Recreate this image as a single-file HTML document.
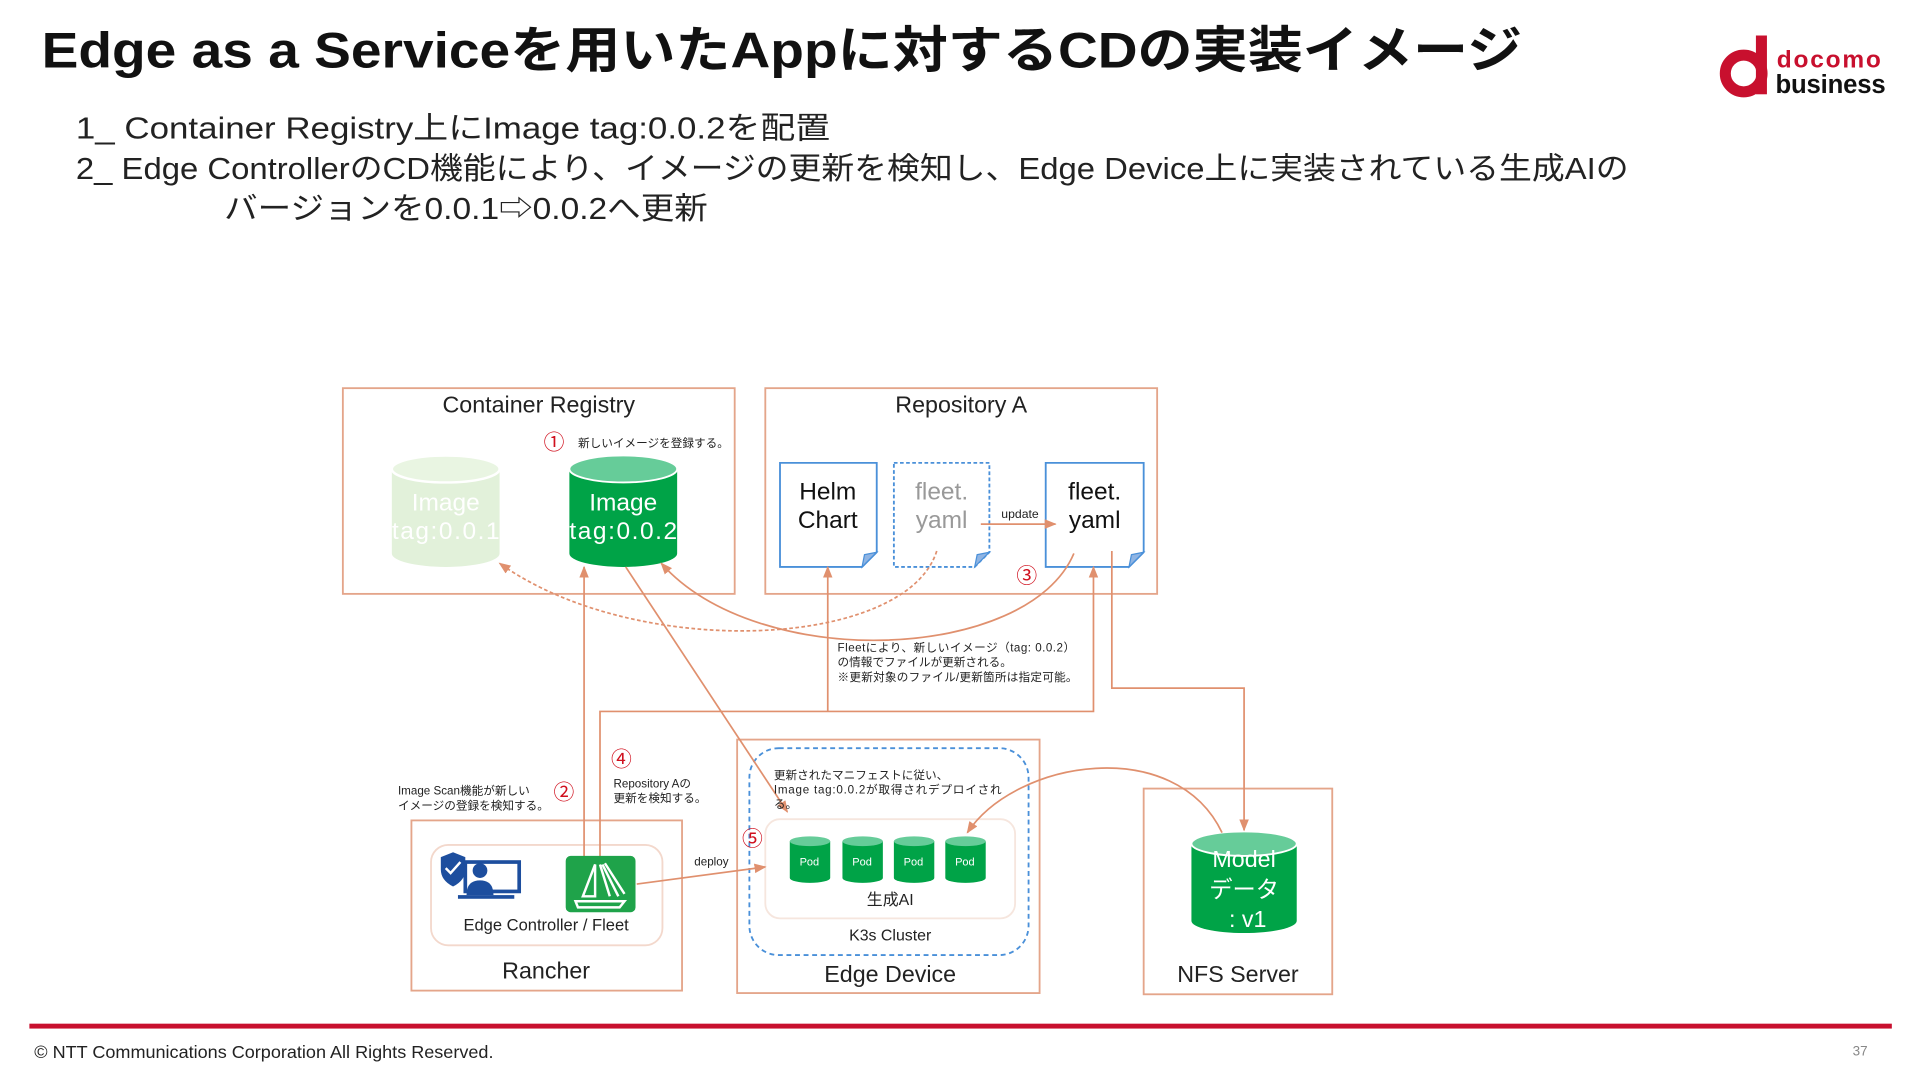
<!DOCTYPE html>
<html><head><meta charset="utf-8"><style>
html,body{margin:0;padding:0;background:#fff;width:1920px;height:1080px;overflow:hidden}
svg{display:block}
text{font-family:"Liberation Sans","Noto Sans CJK JP",sans-serif}
</style></head><body>
<svg width="1920" height="1080" viewBox="0 0 1568 882" xmlns="http://www.w3.org/2000/svg">
<defs>
<marker id="ar" viewBox="0 0 10 10" refX="9" refY="5" markerWidth="7" markerHeight="7" orient="auto-start-reverse"><path d="M0,1 L10,5 L0,9 z" fill="#e0906e"/></marker>
</defs>
<text x="34" y="55" font-size="41" font-weight="bold" fill="#111" textLength="1209" lengthAdjust="spacingAndGlyphs">Edge as a Serviceを用いたAppに対するCDの実装イメージ</text>
<!-- logo -->
<circle cx="1424" cy="60" r="15" fill="none" stroke="#c8102e" stroke-width="9"/>
<rect x="1434" y="29" width="9" height="48" fill="#c8102e"/>
<text x="1451" y="55" font-size="20" font-weight="bold" fill="#c8102e" textLength="85">docomo</text>
<text x="1450" y="76" font-size="21" font-weight="bold" fill="#111" textLength="90">business</text>

<g font-size="25" fill="#222">
<text x="62" y="113" textLength="616" lengthAdjust="spacingAndGlyphs">1_ Container Registry上にImage tag:0.0.2を配置</text>
<text x="62" y="146" textLength="1268" lengthAdjust="spacingAndGlyphs">2_ Edge ControllerのCD機能により、イメージの更新を検知し、Edge Device上に実装されている生成AIの</text>
<text x="183" y="179" textLength="395" lengthAdjust="spacingAndGlyphs">バージョンを0.0.1⇨0.0.2へ更新</text>
</g>

<g fill="none" stroke="#e4a58a" stroke-width="1.5">
<rect x="280" y="317" width="320" height="168"/>
<rect x="625" y="317" width="320" height="168"/>
<rect x="336" y="670" width="221" height="139"/>
<rect x="602" y="604" width="247" height="207"/>
<rect x="934" y="644" width="154" height="168"/>
</g>
<rect x="352" y="690" width="189" height="82" rx="14" fill="none" stroke="#f3d8cc" stroke-width="1.5"/>
<rect x="612" y="611" width="228" height="169" rx="24" fill="none" stroke="#4a90d9" stroke-width="1.5" stroke-dasharray="4,3"/>
<rect x="625" y="669" width="204" height="81" rx="12" fill="none" stroke="#f6e6de" stroke-width="1.5"/>

<g font-size="19" fill="#222" text-anchor="middle">
<text x="440" y="337">Container Registry</text>
<text x="785" y="337">Repository A</text>
<text x="446" y="799">Rancher</text>
<text x="727" y="802">Edge Device</text>
<text x="1011" y="802">NFS Server</text>
</g>

<!-- cylinders -->
<g>
<path d="M320,383 V452 A44,11 0 0 0 408,452 V383 Z" fill="#e2f1da"/>
<ellipse cx="364" cy="383" rx="44" ry="11" fill="#e9f5e2" stroke="#fff" stroke-width="2"/>
<text x="364" y="417" font-size="20" fill="#fff" text-anchor="middle">Image</text>
<text x="364" y="440" font-size="20" fill="#fff" text-anchor="middle" textLength="88">tag:0.0.1</text>
<path d="M465,383 V452 A44,11 0 0 0 553,452 V383 Z" fill="#00a347"/>
<ellipse cx="509" cy="383" rx="44" ry="11" fill="#66cc99" stroke="#fff" stroke-width="1.5"/>
<text x="509" y="417" font-size="20" fill="#fff" text-anchor="middle">Image</text>
<text x="509" y="440" font-size="20" fill="#fff" text-anchor="middle" textLength="88">tag:0.0.2</text>
<path d="M973,689 V752 A43,10 0 0 0 1059,752 V689 Z" fill="#00a347"/>
<ellipse cx="1016" cy="689" rx="43" ry="10" fill="#66cc99" stroke="#fff" stroke-width="1.5"/>
<text x="1016" y="708" font-size="19" fill="#fff" text-anchor="middle">Model</text>
<text x="1016" y="733" font-size="19" fill="#fff" text-anchor="middle">データ</text>
<text x="1019" y="757" font-size="19" fill="#fff" text-anchor="middle">: v1</text>
</g>
<g fill="#00a347">
<path d="M645,687 V717 A16.5,4 0 0 0 678,717 V687Z"/><ellipse cx="661.5" cy="687" rx="16.5" ry="4" fill="#66cc99"/>
<path d="M688,687 V717 A16.5,4 0 0 0 721,717 V687Z"/><ellipse cx="704.5" cy="687" rx="16.5" ry="4" fill="#66cc99"/>
<path d="M730,687 V717 A16.5,4 0 0 0 763,717 V687Z"/><ellipse cx="746.5" cy="687" rx="16.5" ry="4" fill="#66cc99"/>
<path d="M772,687 V717 A16.5,4 0 0 0 805,717 V687Z"/><ellipse cx="788.5" cy="687" rx="16.5" ry="4" fill="#66cc99"/>
</g>
<g font-size="9" fill="#fff" text-anchor="middle"><text x="661" y="707">Pod</text><text x="704" y="707">Pod</text><text x="746" y="707">Pod</text><text x="788" y="707">Pod</text></g>
<text x="727" y="739" font-size="13" fill="#222" text-anchor="middle">生成AI</text>
<text x="727" y="768" font-size="13" fill="#222" text-anchor="middle">K3s Cluster</text>

<!-- docs -->
<g fill="#fff" stroke="#4a90d9" stroke-width="1.5">
<path d="M637,378 H716 V451 L704,463 H637 Z"/>
<path d="M730,378 H808 V451 L796,463 H730 Z" stroke-dasharray="3,2"/>
<path d="M854,378 H934 V451 L922,463 H854 Z"/>
</g>
<g fill="#8fb4e3" stroke="#4a90d9"><path d="M704,463 L706,453 L716,451Z"/><path d="M796,463 L798,453 L808,451Z"/><path d="M922,463 L924,453 L934,451Z"/></g>
<g font-size="20" text-anchor="middle">
<text x="676" y="408" fill="#111">Helm</text><text x="676" y="431" fill="#111">Chart</text>
<text x="769" y="408" fill="#999">fleet.</text><text x="769" y="431" fill="#999">yaml</text>
<text x="894" y="408" fill="#111">fleet.</text><text x="894" y="431" fill="#111">yaml</text>
</g>
<text x="833" y="423" font-size="10" fill="#222" text-anchor="middle">update</text>

<!-- connectors -->
<g fill="none" stroke="#e0906e" stroke-width="1.4">
<line x1="801" y1="428" x2="862" y2="428" marker-end="url(#ar)"/>
<line x1="477" y1="700" x2="477" y2="463" marker-end="url(#ar)"/>
<polyline points="490,700 490,581 893,581 893,463" marker-end="url(#ar)"/>
<line x1="676" y1="581" x2="676" y2="463" marker-end="url(#ar)"/>
<polyline points="908,450 908,562 1016,562 1016,678" marker-end="url(#ar)"/>
<line x1="511" y1="463" x2="643" y2="663" marker-end="url(#ar)"/>
<path d="M765,450 C740,530 520,540 408,460" stroke-dasharray="3,2" marker-end="url(#ar)"/>
<path d="M877,452 C840,540 620,550 540,460" marker-end="url(#ar)"/>
<line x1="520" y1="722" x2="625" y2="708" marker-end="url(#ar)"/>
<path d="M998,680 C960,600 830,620 790,680" marker-end="url(#ar)"/>
</g>

<!-- icons -->
<rect x="462" y="699" width="57" height="46" rx="4" fill="#1fa34a"/>
<g fill="none" stroke="#fff" stroke-width="2"><path d="M476,732 L486,706 L486,732Z"/><path d="M490,706 L498,732 M492,706 L505,732 M494,705 L510,730"/><path d="M470,736 H510 L506,741 H472Z"/></g>
<g fill="#1d4e9e">
<path d="M360,700 L370,696 L380,700 V710 Q380,719 370,724 Q360,719 360,710Z"/>
<rect x="380" y="704" width="44" height="24" fill="none" stroke="#1d4e9e" stroke-width="3"/>
<circle cx="392" cy="711" r="6"/><path d="M381,731 Q381,719 392,719 Q403,719 403,731Z"/>
<rect x="374" y="731" width="46" height="3"/>
</g>
<path d="M364,709 L368,713 L376,704" fill="none" stroke="#fff" stroke-width="2"/>
<text x="446" y="760" font-size="13.5" fill="#222" text-anchor="middle">Edge Controller / Fleet</text>

<!-- annotations -->
<g fill="#d0101e" font-size="17">
<text x="444" y="367">①</text><text x="452" y="653">②</text><text x="830" y="476">③</text><text x="499" y="626">④</text><text x="606" y="691">⑤</text>
</g>
<g font-size="9.5" fill="#222">
<text x="472" y="365">新しいイメージを登録する。</text>
<text x="325" y="649">Image Scan機能が新しい</text><text x="325" y="661">イメージの登録を検知する。</text>
<text x="501" y="643">Repository Aの</text><text x="501" y="655">更新を検知する。</text>
<text x="632" y="636">更新されたマニフェストに従い、</text><text x="632" y="648" textLength="186">Image tag:0.0.2が取得されデプロイされ</text><text x="632" y="660">る。</text>
<text x="567" y="707">deploy</text>
<text x="684" y="532" textLength="194">Fleetにより、新しいイメージ（tag: 0.0.2）</text><text x="684" y="544">の情報でファイルが更新される。</text><text x="684" y="556" textLength="196">※更新対象のファイル/更新箇所は指定可能。</text>
</g>

<rect x="24" y="836" width="1521" height="4" fill="#c8102e"/>
<text x="28" y="864" font-size="14" fill="#222" textLength="375" lengthAdjust="spacingAndGlyphs">© NTT Communications Corporation All Rights Reserved.</text>
<text x="1513" y="862" font-size="11" fill="#888">37</text>
</svg>
</body></html>
